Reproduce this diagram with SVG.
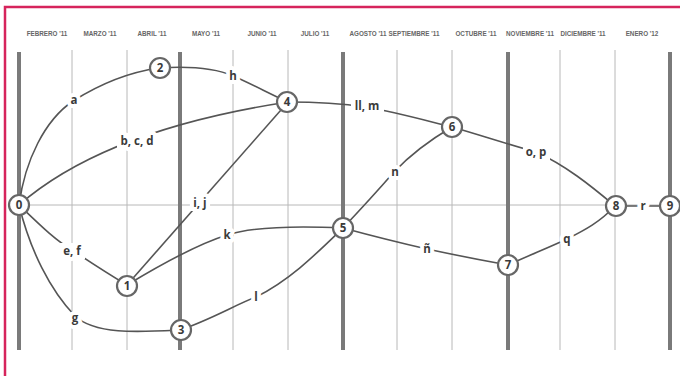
<svg xmlns="http://www.w3.org/2000/svg" width="680" height="376" viewBox="0 0 680 376">
<style>
.thin{stroke:#b8b8b8;stroke-width:1;fill:none}
.thick{stroke:#7a7a7a;stroke-width:4;fill:none}
.edge{stroke:#555;stroke-width:1.6;fill:none}
.bg{fill:#fff}
.month{font-family:"Liberation Sans",Arial,sans-serif;font-size:6.3px;font-weight:bold;fill:#666;text-anchor:middle}
.lbl{font-family:"Open Sans","Liberation Sans",sans-serif;font-size:11.5px;font-weight:bold;fill:#3a3a3a;text-anchor:middle;stroke:#fff;stroke-width:8;paint-order:stroke;stroke-linejoin:round}
.node circle{fill:#fff;stroke:#666;stroke-width:2.2}
.node text{font-family:"Open Sans","Liberation Sans",sans-serif;font-size:11.5px;font-weight:bold;fill:#3a3a3a;text-anchor:middle}
</style>
<rect width="680" height="376" fill="#fff"/>
<path d="M5,376 V7 H680" fill="none" stroke="#d6245c" stroke-width="2.5"/>
<g id="months">
<text class="month" x="47" y="36">FEBRERO '11</text>
<text class="month" x="100" y="36">MARZO '11</text>
<text class="month" x="152" y="36">ABRIL '11</text>
<text class="month" x="206" y="36">MAYO '11</text>
<text class="month" x="262" y="36">JUNIO '11</text>
<text class="month" x="315" y="36">JULIO '11</text>
<text class="month" x="368" y="36">AGOSTO '11</text>
<text class="month" x="414" y="36">SEPTIEMBRE '11</text>
<text class="month" x="476" y="36">OCTUBRE '11</text>
<text class="month" x="530" y="36">NOVIEMBRE '11</text>
<text class="month" x="583" y="36">DICIEMBRE '11</text>
<text class="month" x="642" y="36">ENERO '12</text>
</g>
<g id="grid">
<path class="thin" d="M72,50V350M127,50V350M233,50V350M288,50V350M397,50V350M452,50V350M560,50V350M615,50V350"/>
<path class="thin" d="M19,205H671"/>
<path class="thick" d="M19,52V350M180,52V350M343,52V350M508,52V350M670,52V350"/>
</g>
<g id="connectors">
<path class="edge" d="M19,205 C25,160 45,120 73,101 C100,84 130,72 159,68"/>
<path class="edge" d="M19,205 Q105,130 288,102"/>
<path class="edge" d="M159,68 C190,66 215,68 233,76 C250,83 270,94 288,102"/>
<path class="edge" d="M127,285 L288,102"/>
<path class="edge" d="M19,205 C40,225 55,240 72,250 C90,262 110,275 127,285"/>
<path class="edge" d="M19,205 C30,250 50,290 75,316 C95,335 140,332 180,330"/>
<path class="edge" d="M127,285 C160,265 195,245 227,235 C255,226 300,226 343,228"/>
<path class="edge" d="M180,330 C210,320 235,305 256,297 C290,280 315,255 343,228"/>
<path class="edge" d="M343,228 C360,210 380,188 394,172 C410,155 430,140 452,127"/>
<path class="edge" d="M288,102 C320,102 345,104 366,107 C395,112 420,119 452,127"/>
<path class="edge" d="M452,127 C480,135 510,145 536,152 C565,165 590,185 615,206"/>
<path class="edge" d="M508,265 C530,255 550,247 567,239 C585,230 600,222 615,206"/>
<path class="edge" d="M343,228 C380,238 405,244 427,249 C455,255 480,260 508,265"/>
<path class="edge" d="M615,206 H671"/>
<rect class="bg" x="117" y="133" width="41" height="16"/>
<rect class="bg" x="190" y="195" width="20" height="16"/>
<rect class="bg" x="60" y="243" width="25" height="16"/>
<rect class="bg" x="351" y="98" width="33" height="16"/>
<rect class="bg" x="523" y="144" width="27" height="16"/>
<text class="lbl" x="74" y="104">a</text>
<text class="lbl" x="137" y="145">b, c, d</text>
<text class="lbl" x="233" y="80">h</text>
<text class="lbl" x="200" y="207">i, j</text>
<text class="lbl" x="72" y="255">e, f</text>
<text class="lbl" x="75" y="322">g</text>
<text class="lbl" x="227" y="239">k</text>
<text class="lbl" x="256" y="301">l</text>
<text class="lbl" x="395" y="176">n</text>
<text class="lbl" x="367" y="110">ll, m</text>
<text class="lbl" x="536" y="156">o, p</text>
<text class="lbl" x="567" y="243">q</text>
<text class="lbl" x="427" y="253">ñ</text>
<text class="lbl" x="643" y="210">r</text>
</g>
<g id="n0" class="node"><circle cx="19" cy="205" r="10"/><text x="19" y="209">0</text></g>
<g id="n1" class="node"><circle cx="127" cy="286" r="10"/><text x="127" y="290">1</text></g>
<g id="n2" class="node"><circle cx="160" cy="68" r="10"/><text x="160" y="72">2</text></g>
<g id="n3" class="node"><circle cx="181" cy="330" r="10"/><text x="181" y="334">3</text></g>
<g id="n4" class="node"><circle cx="287" cy="102" r="10"/><text x="287" y="106">4</text></g>
<g id="n5" class="node"><circle cx="343" cy="228" r="10"/><text x="343" y="232">5</text></g>
<g id="n6" class="node"><circle cx="452" cy="127" r="10"/><text x="452" y="131">6</text></g>
<g id="n7" class="node"><circle cx="508" cy="265" r="10"/><text x="508" y="269">7</text></g>
<g id="n8" class="node"><circle cx="616" cy="206" r="10"/><text x="616" y="210">8</text></g>
<g id="n9" class="node"><circle cx="670" cy="206" r="10"/><text x="670" y="210">9</text></g>
</svg>
